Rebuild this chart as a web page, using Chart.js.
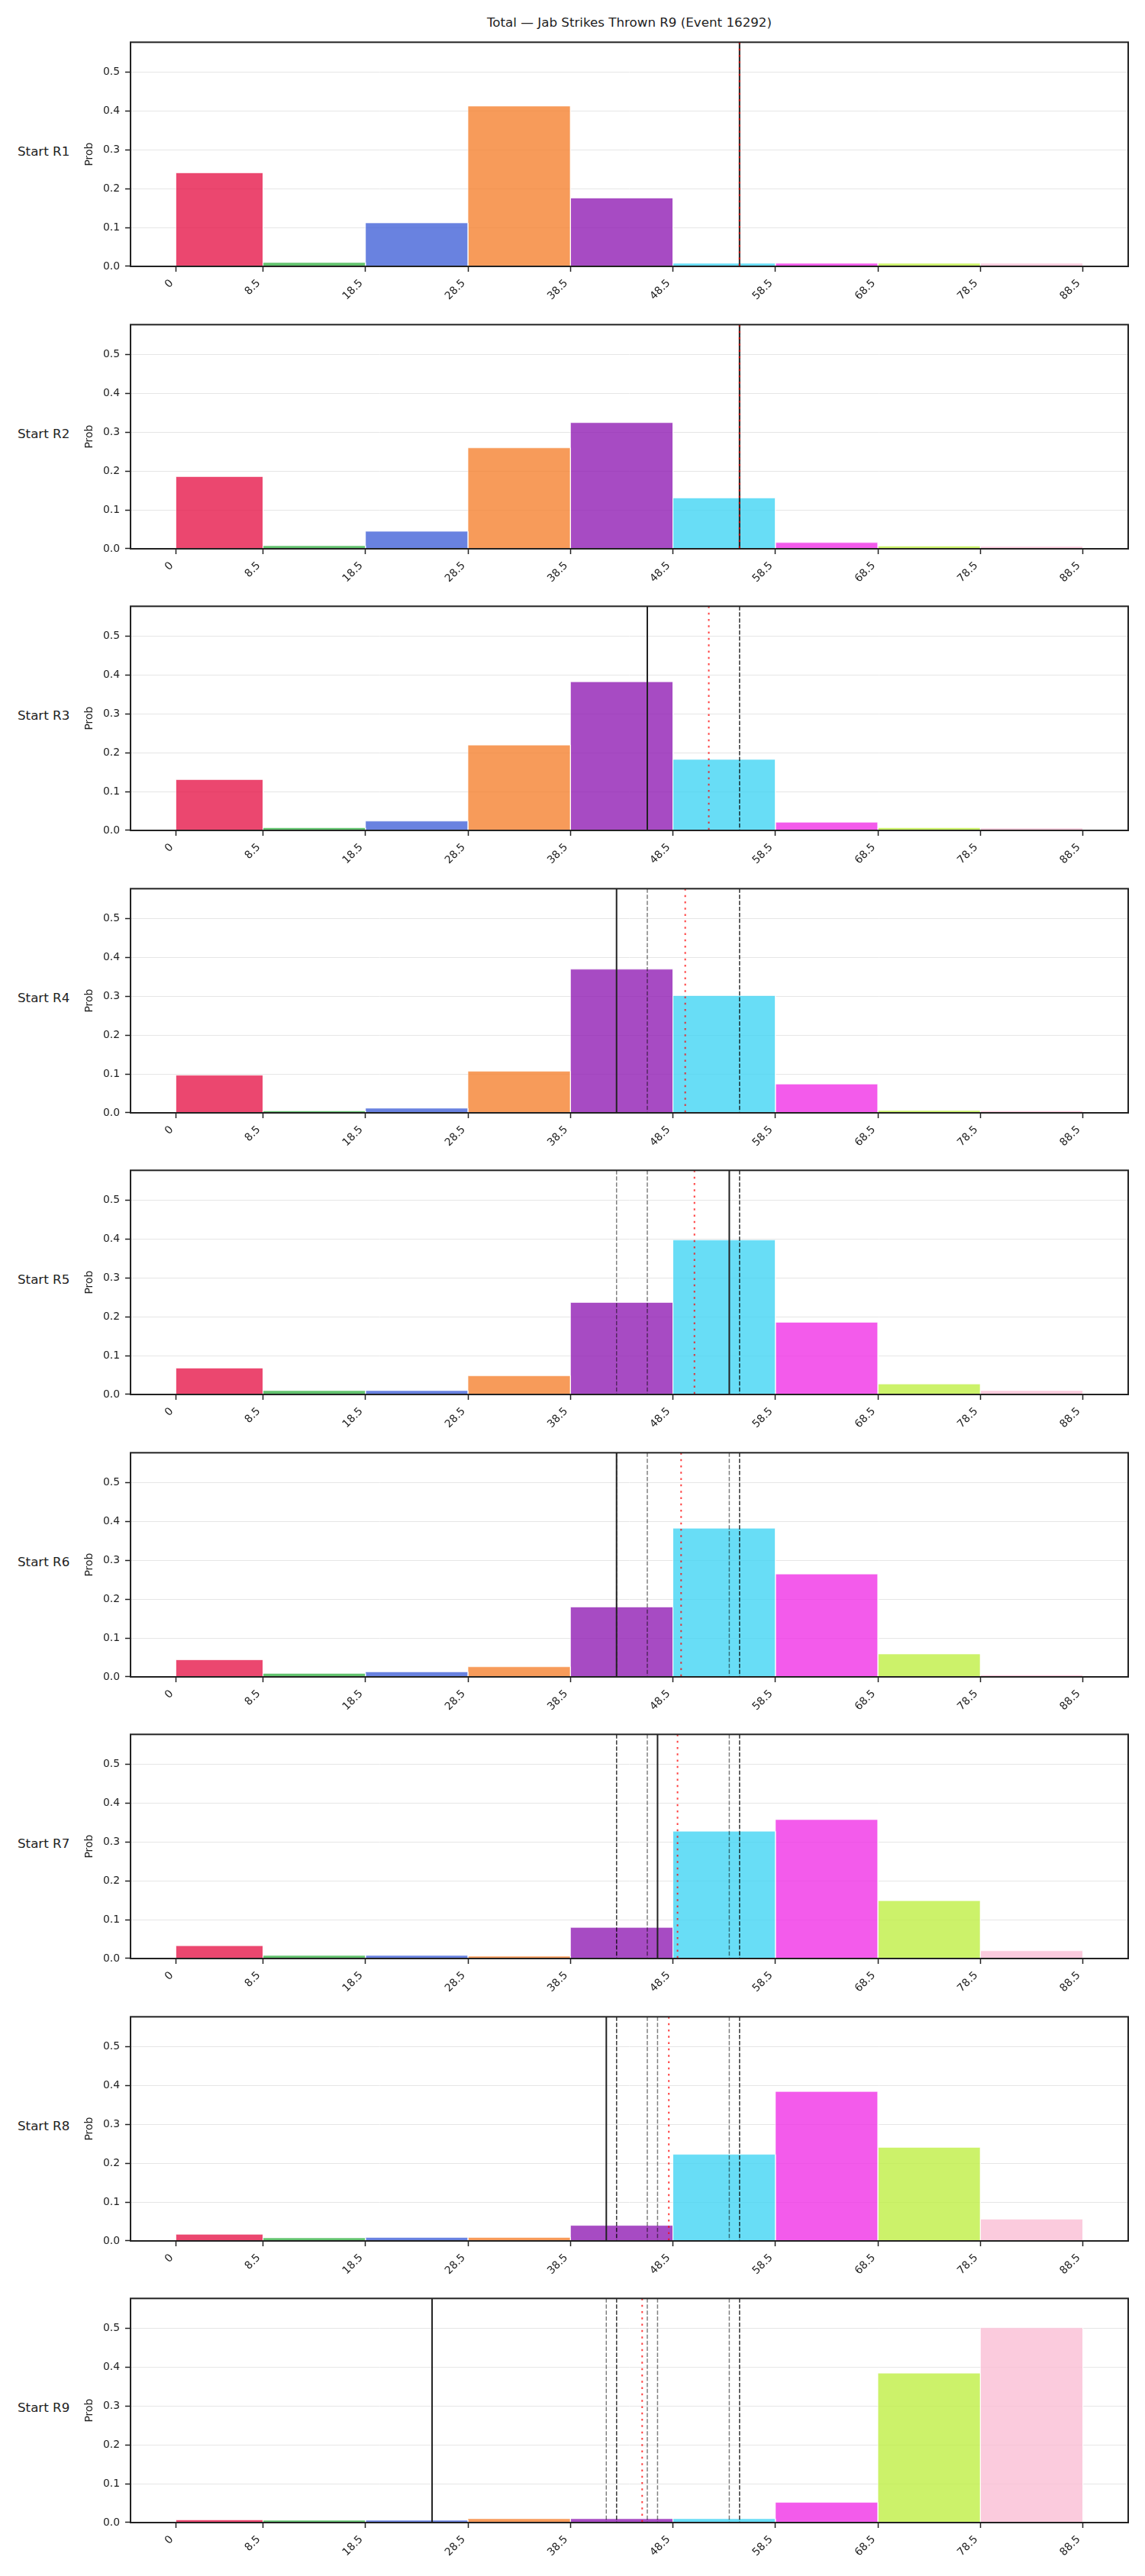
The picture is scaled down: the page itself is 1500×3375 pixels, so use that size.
<!DOCTYPE html>
<html>
<head>
<meta charset="utf-8">
<title>Jab Strikes Thrown R9</title>
<script src="https://cdn.jsdelivr.net/npm/chart.js@4.4.1/dist/chart.umd.min.js"></script>
<style>
  body { margin: 0; background: #fff; font-family: "DejaVu Sans", sans-serif; }
  #page { position: relative; width: 1500px; height: 3375px; overflow: hidden; }
  #title { position: absolute; left: 171px; width: 1307px; top: 21px; text-align: center;
           font-size: 16.7px; line-height: 1; color: #222; white-space: nowrap; }
  .row-label { position: absolute; left: 23px; font-size: 16.7px; line-height: 1; color: #222; white-space: nowrap; }
  canvas { position: absolute; left: 0; }
</style>
</head>
<body>
<div id="page">
  <div id="title">Total — Jab Strikes Thrown R9 (Event 16292)</div>
</div>
<script>
// bins (strike counts) and tick labels
const binEdges = [0, 8.5, 18.5, 28.5, 38.5, 48.5, 58.5, 68.5, 78.5, 88.5];
const xTickLabels = ['0', '8.5', '18.5', '28.5', '38.5', '48.5', '58.5', '68.5', '78.5', '88.5'];
const yTicks = [0, 0.1, 0.2, 0.3, 0.4, 0.5];
const rounds = ['R1', 'R2', 'R3', 'R4', 'R5', 'R6', 'R7', 'R8', 'R9'];
const binColors = ['#e6194B', '#3cb44b', '#4363d8', '#f58231', '#911eb4', '#42d4f4', '#f032e6', '#bfef45', '#fabed4'];

// probability per bin, one array per starting round
const probR1 = [0.241, 0.010, 0.112, 0.413, 0.176, 0.008, 0.008, 0.008, 0.008];
const probR2 = [0.186, 0.008, 0.045, 0.260, 0.325, 0.131, 0.016, 0.007, 0.006];
const probR3 = [0.131, 0.007, 0.024, 0.220, 0.383, 0.183, 0.021, 0.007, 0.006];
const probR4 = [0.097, 0.005, 0.012, 0.107, 0.370, 0.302, 0.074, 0.006, 0.005];
const probR5 = [0.068, 0.010, 0.010, 0.048, 0.237, 0.398, 0.186, 0.027, 0.010];
const probR6 = [0.044, 0.009, 0.013, 0.026, 0.180, 0.383, 0.265, 0.059, 0.005];
const probR7 = [0.033, 0.008, 0.008, 0.006, 0.080, 0.328, 0.358, 0.149, 0.020];
const probR8 = [0.017, 0.008, 0.009, 0.009, 0.040, 0.223, 0.385, 0.241, 0.056];
const probR9 = [0.007, 0.006, 0.006, 0.010, 0.010, 0.010, 0.052, 0.385, 0.502];
const probs = [probR1, probR2, probR3, probR4, probR5, probR6, probR7, probR8, probR9];

// market line at each round (solid), and projected mean (red dotted)
const lineByRound = [55, 55, 46, 43, 54, 43, 47, 42, 25];
const meanByRound = [55, 55, 52, 49.7, 50.6, 49.3, 48.95, 48.1, 45.5];

const yMax = 0.5775;
const xMin = -4.425, xMax = 92.925;

// layout
const PANEL_TOP0 = 50, PANEL_STEP = 369.5, PAD_TOP = 10;
const CANVAS_H = 370, PLOT_H = 299;
const Y_AXIS_W = 66, PAD_LEFT = 105, PAD_RIGHT = 22;
const INK = '#222';
const TICK_FONT = { family: 'DejaVu Sans', size: 13.9 };

function rgba(hex, a) {
  const n = parseInt(hex.slice(1), 16);
  return `rgba(${n >> 16}, ${(n >> 8) & 255}, ${n & 255}, ${a})`;
}

function vline(x, color, width, dash, order) {
  return {
    type: 'line',
    data: [{ x: x, y: yMax }, { x: x, y: 0 }],
    borderColor: color, borderWidth: width, borderDash: dash,
    pointRadius: 0, fill: false, order: order
  };
}

const frame = {
  id: 'frame',
  afterDatasetsDraw(chart) {
    const { ctx, chartArea: a } = chart;
    ctx.save();
    ctx.strokeStyle = INK;
    ctx.lineWidth = 2;
    ctx.strokeRect(a.left, a.top, a.right - a.left, a.bottom - a.top);
    ctx.restore();
  }
};

const page = document.getElementById('page');

rounds.forEach((r, k) => {
  const plotTop = Math.round(PANEL_TOP0 + k * PANEL_STEP);

  const label = document.createElement('div');
  label.className = 'row-label';
  label.textContent = 'Start ' + r;
  label.style.top = (plotTop + PLOT_H / 2 - 9.3) + 'px';
  page.appendChild(label);

  const canvas = document.createElement('canvas');
  canvas.width = 1500;
  canvas.height = CANVAS_H;
  canvas.style.top = (plotTop - PAD_TOP) + 'px';
  page.appendChild(canvas);

  const datasets = [];
  probs[k].forEach((p, i) => {
    const lo = binEdges[i], hi = binEdges[i + 1];
    datasets.push({
      type: 'line',
      data: [{ x: lo, y: 0 }, { x: lo, y: p }, { x: hi, y: p }, { x: hi, y: 0 }],
      backgroundColor: rgba(binColors[i], 0.8),
      borderColor: 'rgba(255,255,255,0.9)', borderWidth: 0.7,
      fill: 'origin', pointRadius: 0, tension: 0, order: 10
    });
  });
  // lines from earlier rounds
  lineByRound.slice(0, k).forEach(v => {
    datasets.push(vline(v, 'rgba(0,0,0,0.5)', 1.5, [5.5, 2.4], 3));
  });
  datasets.push(vline(lineByRound[k], INK, 2, [], 2));
  datasets.push(vline(meanByRound[k], 'rgba(255,0,0,0.75)', 2, [2.5, 5.8], 1));

  new Chart(canvas, {
    type: 'line',
    data: { datasets: datasets },
    options: {
      responsive: false,
      animation: false,
      devicePixelRatio: 1,
      events: [],
      layout: { padding: { top: PAD_TOP, left: PAD_LEFT, right: PAD_RIGHT, bottom: 0 } },
      plugins: { legend: { display: false }, tooltip: { enabled: false } },
      scales: {
        x: {
          type: 'linear', min: xMin, max: xMax,
          afterBuildTicks: s => { s.ticks = binEdges.map(v => ({ value: v })); },
          afterFit: s => { s.height = CANVAS_H - PAD_TOP - PLOT_H; },
          ticks: {
            autoSkip: false, minRotation: 45, maxRotation: 45, padding: 7, labelOffset: -5.5,
            color: INK, font: TICK_FONT,
            callback: (v, i) => xTickLabels[i]
          },
          grid: { drawOnChartArea: false, drawTicks: true, tickLength: 7, tickColor: INK, tickWidth: 1.5 },
          border: { display: false }
        },
        y: {
          type: 'linear', min: 0, max: yMax,
          afterBuildTicks: s => { s.ticks = yTicks.map(v => ({ value: v })); },
          afterFit: s => { s.width = Y_AXIS_W; },
          ticks: {
            padding: 7, color: INK, font: TICK_FONT,
            callback: v => v.toFixed(1)
          },
          grid: { color: '#e6e6e6', lineWidth: 1, drawTicks: true, tickLength: 7, tickColor: INK, tickWidth: 1.5 },
          border: { display: false },
          title: {
            display: true, text: 'Prob', color: INK,
            font: TICK_FONT, padding: { top: 4, bottom: 4 }
          }
        }
      }
    },
    plugins: [frame]
  });
});
</script>
</body>
</html>
